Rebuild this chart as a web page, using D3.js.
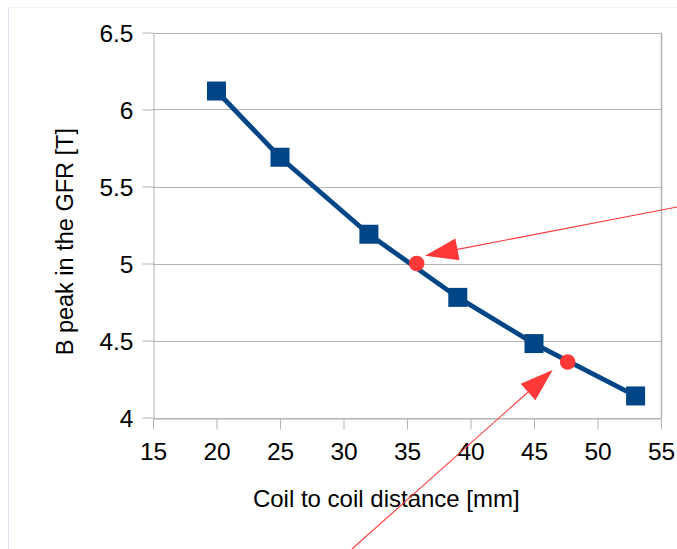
<!DOCTYPE html>
<html>
<head>
<meta charset="utf-8">
<script src="https://cdn.jsdelivr.net/npm/d3@7"></script>
<style>
  html, body { margin: 0; padding: 0; background: #fff; }
  svg { display: block; font-family: "Liberation Sans", Arial, sans-serif; }
</style>
</head>
<body>
<svg id="chart" width="677" height="549"></svg>
<script>
// ---- data ----
const coilDistance = [20, 25, 32, 39, 45, 53];
const bPeak = [6.12, 5.69, 5.19, 4.78, 4.48, 4.14];
const markedX = [35.76, 47.65];
const markedY = [5.0, 4.36];
const xTicks = [15, 20, 25, 30, 35, 40, 45, 50, 55];
const yTicks = [4, 4.5, 5, 5.5, 6, 6.5];
const arrowFrom = [[57, 5.379], [30.67, 3.146]];
const arrowTo = [[36.42, 5.051], [46.47, 4.308]];
const xTitle = "Coil to coil distance [mm]";
const yTitle = "B peak in the GFR [T]";

// ---- layout ----
const svg = d3.select("#chart");
const pLeft = 153, pRight = 661, pTop = 32.5, pBottom = 417.5;
const x = d3.scaleLinear().domain([15, 55]).range([pLeft, pRight]);
const y = d3.scaleLinear().domain([4, 6.5]).range([pBottom, pTop]);
const gridColor = "#b3b3b3";
const blue = "#004586";
const red = "#ff3838";

// outer frame
svg.append("line").attr("x1", 8.5).attr("x2", 8.5).attr("y1", 7).attr("y2", 549)
  .attr("stroke", "#dde6f0").attr("stroke-width", 1);
svg.append("line").attr("x1", 8).attr("x2", 677).attr("y1", 7.5).attr("y2", 7.5)
  .attr("stroke", "#f0f2f5").attr("stroke-width", 1);

// horizontal gridlines
svg.append("g").selectAll("line").data(yTicks).join("line")
  .attr("x1", pLeft).attr("x2", pRight)
  .attr("y1", d => Math.round(y(d)) + 0.5).attr("y2", d => Math.round(y(d)) + 0.5)
  .attr("stroke", gridColor).attr("stroke-width", 1);
// right border
svg.append("line").attr("x1", pRight + 0.5).attr("x2", pRight + 0.5)
  .attr("y1", pTop).attr("y2", pBottom + 0.5).attr("stroke", gridColor).attr("stroke-width", 1.5);

// axes
const yAxis = svg.append("g").attr("transform", `translate(${pLeft + 0.5},0)`)
  .call(d3.axisLeft(y).tickValues(yTicks).tickSize(11).tickPadding(9)
    .tickFormat(d3.format("")).tickSizeOuter(0));
const xAxis = svg.append("g").attr("transform", `translate(0,${Math.round(pBottom) + 0.5})`)
  .call(d3.axisBottom(x).tickValues(xTicks).tickSize(11).tickPadding(13).tickSizeOuter(0));
[yAxis, xAxis].forEach(g => {
  g.selectAll("path.domain").attr("stroke", gridColor);
  g.selectAll(".tick line").attr("stroke", gridColor);
  g.selectAll(".tick text").attr("fill", "#000")
    .style("font-size", "24.5px").style("font-family", '"Liberation Sans", Arial, sans-serif');
});
yAxis.selectAll(".tick text").attr("dy", "0.35em");

// titles
svg.append("text").attr("x", 386.3).attr("y", 507.3).attr("text-anchor", "middle")
  .style("font-size", "24px").attr("fill", "#000").text(xTitle);
svg.append("text").attr("transform", "translate(72.7,241.7) rotate(-90)")
  .attr("text-anchor", "middle").style("font-size", "23.5px").attr("fill", "#000").text(yTitle);

// data line
const pts = coilDistance.map((d, i) => [d, bPeak[i]]);
svg.append("path").datum(pts)
  .attr("d", d3.line().x(d => x(d[0])).y(d => y(d[1])))
  .attr("fill", "none").attr("stroke", blue).attr("stroke-width", 4.8)
  .attr("stroke-linejoin", "round");
const sq = 19;
svg.append("g").selectAll("rect").data(pts).join("rect")
  .attr("x", d => x(d[0]) - sq / 2).attr("y", d => y(d[1]) - sq / 2)
  .attr("width", sq).attr("height", sq).attr("fill", blue);

// marked points
svg.append("g").selectAll("circle").data(markedX.map((d, i) => [d, markedY[i]])).join("circle")
  .attr("cx", d => x(d[0])).attr("cy", d => y(d[1])).attr("r", 7.8).attr("fill", red);

// arrows
const headLen = 33, headHalf = 11;
arrowFrom.forEach((f, i) => {
  const t = arrowTo[i];
  const x1 = x(f[0]), y1 = y(f[1]), x2 = x(t[0]), y2 = y(t[1]);
  const dx = x2 - x1, dy = y2 - y1, L = Math.hypot(dx, dy);
  const ux = dx / L, uy = dy / L;
  const bx = x2 - ux * headLen, by = y2 - uy * headLen;
  svg.append("line").attr("x1", x1).attr("y1", y1).attr("x2", bx).attr("y2", by)
    .attr("stroke", red).attr("stroke-width", 1.1);
  svg.append("path")
    .attr("d", `M${x2},${y2}L${bx - uy * headHalf},${by + ux * headHalf}L${bx + uy * headHalf},${by - ux * headHalf}Z`)
    .attr("fill", red);
});
</script>
</body>
</html>
